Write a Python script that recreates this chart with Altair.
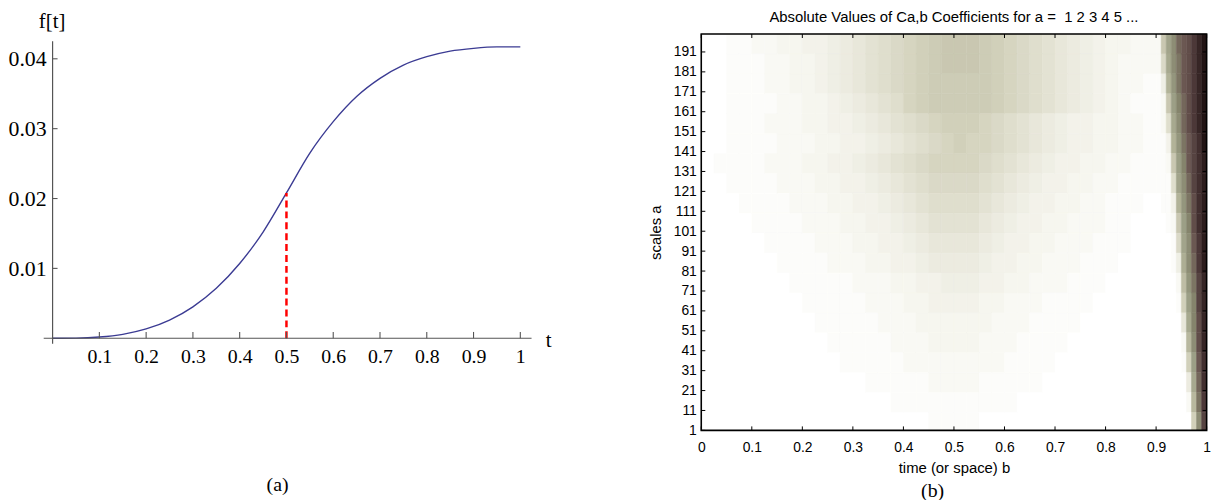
import altair as alt
import pandas as pd

# ---------------- panel (a): f(t) ----------------
t_vals = [0, 0.05, 0.1, 0.15, 0.2, 0.25, 0.3, 0.35, 0.4, 0.45, 0.5,
          0.55, 0.6, 0.65, 0.7, 0.75, 0.8, 0.85, 0.9, 0.95, 1.0]
f_vals = [0, 0.00002, 0.00017, 0.00056, 0.00133, 0.0026, 0.0045, 0.00715, 0.0107, 0.0152, 0.0208,
          0.0265, 0.0310, 0.0346, 0.0372, 0.0391, 0.0403, 0.0411, 0.0415, 0.0417, 0.0417]
t_ticks = [0.1, 0.2, 0.3, 0.4, 0.5, 0.6, 0.7, 0.8, 0.9, 1.0]
f_ticks = [0.01, 0.02, 0.03, 0.04]
marker_t = 0.5
marker_f = 0.0208

# ---------------- panel (b): |C(a,b)| ----------------
b_ticks = [0, 0.1, 0.2, 0.3, 0.4, 0.5, 0.6, 0.7, 0.8, 0.9, 1.0]
a_ticks = [1, 11, 21, 31, 41, 51, 61, 71, 81, 91, 101, 111, 121, 131, 141, 151, 161, 171, 181, 191]
b_edges = [round(0.025 * i, 4) for i in range(37)] + [round(0.9 + 0.01 * i, 4) for i in range(1, 11)]
a_edges = [1] + [10 * i for i in range(1, 21)]
# intensity levels (0 = white ... z = darkest), top row (a near 200) first
heat_rows = [
    "0011223344 56789abcde eedcba9876 543322 2elorstvxz",
    "0011122334 56789abcde eedcba9876 543222 2akoqstvxz",
    "0011122334 56789abcdd dddcba9876 543221 15inqstvxz",
    "0011112233 456789bcdd dddcba9876 543211 12emprtvxz",
    "0011122233 4456789abc ccba987654 433221 129kortvxz",
    "0011112223 34456789ab cbba987654 433221 114inqsuwz",
    "0111122233 4456789abb bba9876544 332211 112empsuwy",
    "0011112223 34456789aa aa98765443 322111 1119loruwy",
    "0001111222 3344567899 9987654433 221110 0114inqtwy",
    "0000111122 2334456788 8876544332 221100 0012emptwy",
    "0000011112 2233445677 7765443322 211100 0001alosvy",
    "0000001111 2223344566 6654433222 111000 00015jorvy",
    "0000000111 1122233445 5544332221 110000 00002gnqux",
    "0000000011 1112223344 4433222111 100000 00001cmpux",
    "0000000001 1111222333 3332221111 000000 000007kptx",
    "0000000000 1111122233 3322211110 000000 000002hotx",
    "0000000000 0111112222 2222111100 000000 000001cmsw",
    "0000000000 0001111122 2211111000 000000 0000006krw",
    "0000000000 0000011111 1111100000 000000 0000002hqv",
    "0000000000 0000000011 1100000000 000000 0000000cou",
]
lvl_stops = [0, 3, 6, 9, 12, 14, 18, 22, 25, 28, 31, 35]
lvl_colors = ["#ffffff", "#f6f6ef", "#ecebe0", "#dfdecd", "#d1d0ba", "#c9c7b1",
              "#b2b398", "#9c9f86", "#85846c", "#6b5852", "#4c3838", "#221414"]

recs = []
for r, row in enumerate(heat_rows):
    cells = row.replace(" ", "")
    assert len(cells) == len(b_edges) - 1, (r, len(cells))
    k = len(heat_rows) - 1 - r
    for j, ch in enumerate(cells):
        recs.append({"b0": b_edges[j], "b1": b_edges[j + 1],
                     "a0": a_edges[k], "a1": a_edges[k + 1], "v": int(ch, 36)})
df_h = pd.DataFrame(recs)

serif = "Liberation Serif"
sans = "Liberation Sans"

# ---------- left chart ----------
XA = alt.Scale(domain=[0, 483 / 472], nice=False, zero=False)
YA = alt.Scale(domain=[0, 307 / 7050], nice=False, zero=False)
AX_T = alt.Axis(
    values=t_ticks, format="~g", domain=False, ticks=False, tickSize=0, grid=False,
    labelFont=serif, labelFontSize=20, labelPadding=8, labelFlush=False, labelOverlap=False,
    labelColor="black", title="t", titleFont=serif, titleFontSize=21, titleFontWeight="normal",
    titleColor="black", titleX=500, titleY=8, titleAlign="center", titleBaseline="alphabetic")
AX_F = alt.Axis(
    values=f_ticks, format=".2f", domain=False, ticks=False, tickSize=0, grid=False,
    labelFont=serif, labelFontSize=22, labelPadding=6.5, labelColor="black",
    title="f[t]", titleAngle=0, titleFont=serif, titleFontSize=21, titleFontWeight="normal",
    titleColor="black", titleX=-1, titleY=-7, titleAlign="center", titleBaseline="alphabetic")

df_a = pd.DataFrame({"t": t_vals, "f": f_vals})
curve = alt.Chart(df_a).mark_line(color="#3b3b93", strokeWidth=1.4, interpolate="monotone").encode(
    x=alt.X("t:Q", scale=XA, axis=AX_T),
    y=alt.Y("f:Q", scale=YA, axis=AX_F),
)

df_m = pd.DataFrame({"t": [marker_t], "f": [marker_f], "z": [0.0]})
marker = alt.Chart(df_m).mark_rule(color="#ff0000", strokeWidth=2.5, strokeDash=[7, 4]).encode(
    x=alt.X("t:Q", scale=XA, axis=AX_T),
    y=alt.Y("z:Q", scale=YA, axis=AX_F),
    y2="f:Q",
)

axis_col = "#555555"
df_ax = pd.DataFrame({"x0": [-0.019], "x1": [1.024], "y": [0.0]})
axx = alt.Chart(df_ax).mark_rule(color=axis_col, strokeWidth=1.2).encode(
    x=alt.X("x0:Q", scale=XA, axis=AX_T), x2="x1:Q", y=alt.Y("y:Q", scale=YA, axis=AX_F))
df_ay = pd.DataFrame({"x": [0.0], "y0": [-0.0008], "y1": [0.0425]})
axy = alt.Chart(df_ay).mark_rule(color=axis_col, strokeWidth=1.2).encode(
    x=alt.X("x:Q", scale=XA, axis=AX_T), y=alt.Y("y0:Q", scale=YA, axis=AX_F), y2="y1:Q")
df_xt = pd.DataFrame({"t": t_ticks, "y0": 0.0, "y1": 0.0009})
xt = alt.Chart(df_xt).mark_rule(color=axis_col, strokeWidth=1.1).encode(
    x=alt.X("t:Q", scale=XA, axis=AX_T), y=alt.Y("y0:Q", scale=YA, axis=AX_F), y2="y1:Q")
df_yt = pd.DataFrame({"f": f_ticks, "x0": 0.0, "x1": 0.0106})
yt = alt.Chart(df_yt).mark_rule(color=axis_col, strokeWidth=1.1).encode(
    y=alt.Y("f:Q", scale=YA, axis=AX_F), x=alt.X("x0:Q", scale=XA, axis=AX_T), x2="x1:Q")

cap_a = alt.Chart(pd.DataFrame({"c": ["(a)"]})).mark_text(
    font=serif, fontSize=20, align="center", baseline="alphabetic", color="black").encode(
    text="c:N", x=alt.value(227), y=alt.value(461))

left = alt.layer(curve, marker, axx, axy, xt, yt, cap_a).properties(width=483, height=307)

# ---------- right chart ----------
XB = alt.Scale(domain=[0, 1], nice=False, zero=False)
YB = alt.Scale(domain=[1, 200], nice=False, zero=False)
CS = alt.Scale(domain=lvl_stops, range=lvl_colors, interpolate="rgb")
AX_B = alt.Axis(
    values=b_ticks, format="~g", domain=False, ticks=False, tickSize=0, grid=False,
    labelFont=sans, labelFontSize=14, labelPadding=10, labelFlush=False, labelOverlap=False,
    labelColor="black", title="time (or space) b", titleFont=sans, titleFontSize=15,
    titleFontWeight="normal", titleColor="black", titlePadding=6)
AX_A = alt.Axis(
    values=a_ticks, format="d", domain=False, ticks=False, tickSize=0, grid=False,
    labelFont=sans, labelFontSize=14, labelPadding=5, labelFlush=False, labelOverlap=False,
    labelColor="black", title="scales a", titleFont=sans, titleFontSize=15,
    titleFontWeight="normal", titleColor="black", titlePadding=9.6)

heat = alt.Chart(df_h).mark_rect(strokeWidth=0.5).encode(
    x=alt.X("b0:Q", scale=XB, axis=AX_B),
    x2="b1:Q",
    y=alt.Y("a0:Q", scale=YB, axis=AX_A),
    y2="a1:Q",
    color=alt.Color("v:Q", scale=CS, legend=None),
    stroke=alt.Stroke("v:Q", scale=CS, legend=None),
)

df_fr = pd.DataFrame({"x0": [0.0], "x1": [1.0], "y0": [1.0], "y1": [200.0]})
frame = alt.Chart(df_fr).mark_rect(filled=False, stroke="black", strokeWidth=1.6).encode(
    x=alt.X("x0:Q", scale=XB, axis=AX_B), x2="x1:Q",
    y=alt.Y("y0:Q", scale=YB, axis=AX_A), y2="y1:Q")

df_bt = pd.DataFrame({"b": b_ticks, "lo0": 1.0, "lo1": 3.0, "hi0": 200.0, "hi1": 198.0})
tick_b = alt.Chart(df_bt).mark_rule(color="black", strokeWidth=1).encode(
    x=alt.X("b:Q", scale=XB, axis=AX_B), y=alt.Y("lo0:Q", scale=YB, axis=AX_A), y2="lo1:Q")
tick_t = alt.Chart(df_bt).mark_rule(color="black", strokeWidth=1).encode(
    x=alt.X("b:Q", scale=XB, axis=AX_B), y=alt.Y("hi0:Q", scale=YB, axis=AX_A), y2="hi1:Q")
df_at = pd.DataFrame({"a": a_ticks, "l0": 0.0, "l1": 0.008, "r0": 1.0, "r1": 0.992})
tick_l = alt.Chart(df_at).mark_rule(color="black", strokeWidth=1).encode(
    y=alt.Y("a:Q", scale=YB, axis=AX_A), x=alt.X("l0:Q", scale=XB, axis=AX_B), x2="l1:Q")
tick_r = alt.Chart(df_at).mark_rule(color="black", strokeWidth=1).encode(
    y=alt.Y("a:Q", scale=YB, axis=AX_A), x=alt.X("r0:Q", scale=XB, axis=AX_B), x2="r1:Q")

cap_b = alt.Chart(pd.DataFrame({"c": ["(b)"]})).mark_text(
    font=serif, fontSize=20, align="center", baseline="alphabetic", color="black").encode(
    text="c:N", x=alt.value(233.5), y=alt.value(467))

right = alt.layer(heat, frame, tick_b, tick_t, tick_l, tick_r, cap_b).properties(
    width=510, height=400,
    title=alt.TitleParams("Absolute Values of Ca,b Coefficients for a =\u00a0 1 2 3 4 5 ...",
                          font=sans, fontSize=15, fontWeight="normal", color="black",
                          offset=8, anchor="middle"),
)

chart = alt.hconcat(left, right, spacing=98.6).properties(padding=0).configure_view(stroke=None)

chart.save("out.html", embed_options={"renderer": "svg", "actions": False})
